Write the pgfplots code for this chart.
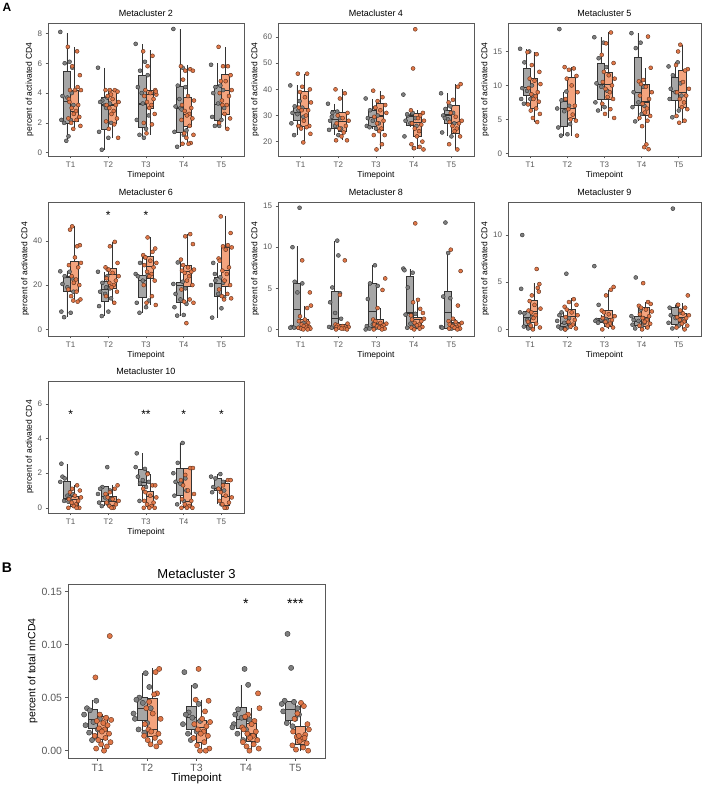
\documentclass[border=0pt]{standalone}
\usepackage{fontspec}
\setmainfont{Liberation Sans}
\usepackage{pgfplots}
\pgfplotsset{compat=1.18}
\usepgfplotslibrary{statistics}

\definecolor{gfill}{HTML}{A6A6A6}
\definecolor{ofill}{HTML}{F4A47E}
\definecolor{gpt}{HTML}{7F7F7F}
\definecolor{opt}{HTML}{E07748}
\definecolor{edge}{HTML}{333333}
\definecolor{frm}{HTML}{595959}

\pgfplotsset{
  mc/.style={scale only axis, xmin=0.4, xmax=5.6,
    xtick={1,2,3,4,5}, xticklabels={T1,T2,T3,T4,T5},
    tick pos=left, tick align=outside, major tick length=2.5pt,
    axis line style={frm, line width=0.5pt},
    tick style={frm, line width=0.5pt},
    ticklabel style={font=\fontsize{8}{9}\selectfont, text=black!65},
    /pgf/number format/assume math mode=true,
    title style={font=\fontsize{9}{10}\selectfont, yshift=-3pt},
    label style={font=\fontsize{8.5}{9}\selectfont},
    ylabel={percent of activated CD4}, xlabel={Timepoint},
    xlabel style={yshift=3pt}, ylabel style={yshift=-3pt},
    boxplot/draw direction=y,
    boxplot/box extend=0.2, boxplot/whisker extend=0,
    boxplot/every median/.style={line width=1.1pt}},
  gb/.style={draw=edge, fill=gfill, line width=0.5pt},
  ob/.style={draw=edge, fill=ofill, line width=0.5pt},
  % jitter is spread a little wider round each group's centre
  gp/.style={only marks, mark=*, mark size=2pt,
    x filter/.expression={round(x)-0.1+1.45*(x-round(x)+0.1)},
    mark options={fill=gpt, draw=black!80, line width=0.4pt}},
  op/.style={only marks, mark=*, mark size=2pt,
    x filter/.expression={round(x)+0.1+1.45*(x-round(x)-0.1)},
    mark options={fill=opt, draw=black!60!opt, line width=0.4pt}},
}
\tikzset{star/.style={font=\fontsize{12}{12}\selectfont, yshift=-2pt}}
% box: style, position, lower whisker, lower quartile, median, upper quartile, upper whisker
\newcommand{\bx}[7]{\addplot[#1, boxplot prepared={draw position=#2,
  lower whisker=#3, lower quartile=#4, median=#5,
  upper quartile=#6, upper whisker=#7}] coordinates {};}

\begin{document}
\begin{tikzpicture}
\useasboundingbox (0,0) rectangle (706pt,788pt);
\node[font=\bfseries\fontsize{12}{12}\selectfont] at (7pt,781pt) {A};
\node[font=\bfseries\fontsize{14}{14}\selectfont] at (7pt,220pt) {B};

% ---- Metacluster 2
\begin{axis}[mc, at={(48pt,632pt)}, anchor=south west, width=196pt, height=133pt,
  ymin=-0.22, ymax=8.7, ytick={0,2,4,6,8}, title={Metacluster 2}]
\bx{gb}{0.9}{0.8}{2.0}{3.44}{5.44}{8.0}
\bx{ob}{1.1}{1.6}{2.1}{2.78}{4.2}{7.1}
\bx{gb}{1.9}{0.2}{1.55}{3.2}{3.7}{5.7}
\bx{ob}{2.1}{1.0}{1.95}{3.2}{4.2}{4.2}
\bx{gb}{2.9}{0.95}{1.73}{3.27}{5.2}{7.3}
\bx{ob}{3.1}{1.2}{3.0}{3.9}{4.2}{6.9}
\bx{gb}{3.9}{0.4}{1.4}{3.0}{4.45}{8.3}
\bx{ob}{4.1}{0.6}{1.8}{2.56}{3.7}{5.9}
\bx{gb}{4.9}{1.78}{2.2}{3.22}{4.5}{6.0}
\bx{ob}{5.1}{1.6}{2.6}{4.2}{5.27}{7.1}
\addplot[gp] coordinates {
(.78,8.1)(.95,6.1)(.86,6.0)(1.00,5.7)(.82,3.8)(.91,3.7)(1.02,3.2)(.80,2.2)(.97,2.2)(.85,2.0)(.93,1.1)(.89,0.8)(.99,4.0)
(1.78,5.7)(1.95,3.7)(1.86,3.5)(2.00,3.3)(1.82,3.4)(1.91,3.2)(2.02,2.0)(1.80,1.4)(1.97,1.0)(1.85,0.2)(1.93,3.0)
(2.78,7.3)(2.95,6.1)(2.86,5.5)(3.00,5.2)(2.82,4.4)(2.91,3.3)(3.02,2.5)(2.80,2.2)(2.97,1.6)(2.85,1.2)(2.93,1.0)(2.89,4.0)
(3.78,8.3)(3.95,5.7)(3.86,4.5)(4.00,4.4)(3.82,3.1)(3.91,3.0)(4.02,1.5)(3.80,1.4)(3.97,1.2)(3.85,0.4)(3.93,2.9)(3.89,3.6)
(4.78,5.9)(4.95,4.5)(4.86,4.4)(5.00,4.2)(4.82,4.0)(4.91,3.3)(5.02,3.0)(4.80,2.4)(4.97,2.2)(4.85,1.8)(4.93,1.8)
};
\addplot[op] coordinates {
(.98,7.1)(1.15,6.8)(1.06,5.8)(1.20,5.2)(1.02,4.2)(1.11,4.2)(1.22,4.2)(1.00,3.6)(1.17,3.2)(1.05,3.0)(1.13,2.8)(1.09,2.6)(1.19,2.4)(.99,2.3)(1.14,2.2)(1.04,2.0)(1.21,1.8)(1.08,1.6)(1.16,4.4)(1.01,3.4)
(1.98,4.2)(2.15,4.2)(2.06,4.2)(2.20,4.1)(2.02,3.8)(2.11,3.6)(2.22,3.4)(2.00,3.2)(2.17,3.2)(2.05,3.0)(2.13,2.8)(2.09,2.6)(2.19,2.3)(1.99,2.1)(2.14,1.9)(2.04,1.6)(2.21,1.0)(2.08,3.9)
(2.98,6.8)(3.15,6.5)(3.06,5.8)(3.20,4.2)(3.02,4.2)(3.11,4.0)(3.22,3.9)(3.00,3.8)(3.17,3.6)(3.05,3.4)(3.13,3.2)(3.09,3.0)(3.19,2.6)(2.99,2.0)(3.14,1.9)(3.04,1.3)(3.21,4.1)
(3.98,5.8)(4.15,5.6)(4.06,5.5)(4.20,5.5)(4.02,4.9)(4.11,3.8)(4.22,3.5)(4.00,3.2)(4.17,3.0)(4.05,2.8)(4.13,2.6)(4.09,2.5)(4.19,2.3)(3.99,2.2)(4.14,1.8)(4.04,1.3)(4.21,1.2)(4.08,1.0)(4.16,0.65)(4.01,0.6)(4.12,0.6)
(4.98,7.1)(5.15,5.8)(5.06,5.8)(5.20,5.2)(5.02,4.8)(5.11,4.8)(5.22,4.2)(5.00,4.0)(5.17,3.8)(5.05,3.2)(5.13,3.2)(5.09,2.6)(5.19,2.3)(4.99,2.0)(5.14,1.6)(5.04,3.5)
};
\end{axis}

% ---- Metacluster 4
\begin{axis}[mc, at={(278pt,632pt)}, anchor=south west, width=196pt, height=133pt,
  ymin=14.5, ymax=65.4, ytick={20,30,40,50,60}, title={Metacluster 4}]
\bx{gb}{0.9}{22.6}{28.3}{31.1}{33.7}{41.5}
\bx{ob}{1.1}{19.7}{25.8}{32.8}{39.2}{46}
\bx{gb}{1.9}{22.5}{25.1}{28.3}{32.1}{34.5}
\bx{ob}{2.1}{20.5}{23.8}{27.7}{31.1}{40}
\bx{gb}{2.9}{25}{25.8}{29.3}{32.1}{36.5}
\bx{ob}{3.1}{17}{24.5}{29.8}{34.7}{39.5}
\bx{gb}{3.9}{25.5}{26.4}{29.6}{30.2}{31}
\bx{ob}{4.1}{17}{21.9}{27.3}{30.9}{32}
\bx{gb}{4.9}{22}{27}{30.2}{32.1}{38.5}
\bx{ob}{5.1}{17}{23.2}{27.3}{34}{42}
\addplot[gp] coordinates {
(.78,41.5)(.95,35.5)(.86,33.5)(1.00,33)(.82,31)(.91,30.5)(1.02,29.5)(.80,27)(.97,25.5)(.85,22.5)(.93,32)
(1.78,34.5)(1.95,31.5)(1.86,31)(2.00,29)(1.82,28)(1.91,26)(2.02,25)(1.80,24.5)(1.97,22.5)(1.85,29.5)
(2.78,36.5)(2.95,33)(2.86,32)(3.00,30)(2.82,29)(2.91,28)(3.02,27)(2.80,26)(2.97,25)(2.85,25.5)
(3.78,38)(3.95,31)(3.86,30)(4.00,29)(3.82,28)(3.91,27)(4.02,26)(3.80,22)(3.97,17.5)(3.85,30.5)
(4.78,38.5)(4.95,33.5)(4.86,32.5)(5.00,31)(4.82,30)(4.91,28.5)(5.02,27)(4.80,23.5)(4.97,22)(4.85,29)
};
\addplot[op] coordinates {
(.98,46)(1.15,46)(1.06,41)(1.20,40)(1.02,39)(1.11,37)(1.22,35)(1.00,33)(1.17,32)(1.05,32)(1.13,30)(1.09,28)(1.19,26)(.99,26)(1.14,25.5)(1.04,25)(1.21,23)(1.08,19.7)
(1.98,40)(2.15,38.5)(2.06,36.5)(2.20,31)(2.02,30)(2.11,29)(2.22,28)(2.00,27)(2.17,26)(2.05,25)(2.13,23.5)(2.09,22)(2.19,20.5)(1.99,20.5)
(2.98,39.5)(3.15,37)(3.06,35.5)(3.20,34)(3.02,33)(3.11,32)(3.22,31)(3.00,29.5)(3.17,28)(3.05,27)(3.13,25)(3.09,24)(3.19,22.5)(2.99,22.5)(3.14,19)(3.04,17)
(4.06,63)(4.02,48)(3.98,32)(4.20,31)(4.15,30)(4.11,29)(4.22,28)(4.00,27)(4.17,26.5)(4.05,25)(4.13,24)(4.09,22)(4.19,20)(3.99,19)(4.14,18)(4.04,17.5)(4.21,17)
(5.20,42)(5.15,41)(5.06,36)(4.98,35)(5.02,31)(5.11,29.5)(5.22,28)(5.00,27.5)(5.17,27)(5.05,26)(5.13,25)(5.09,24)(5.19,22)(4.99,19)(5.14,17)
};
\end{axis}

% ---- Metacluster 5
\begin{axis}[mc, at={(508pt,632pt)}, anchor=south west, width=193pt, height=133pt,
  ymin=-0.4, ymax=19.2, ytick={0,5,10,15}, title={Metacluster 5}]
\bx{gb}{0.9}{7.3}{8.5}{9.7}{12.5}{15.4}
\bx{ob}{1.1}{4.6}{6.6}{8.4}{11}{14.9}
\bx{gb}{1.9}{2.6}{4.0}{6.6}{7.65}{9.1}
\bx{ob}{2.1}{2.6}{5.2}{6.6}{11.2}{12.7}
\bx{gb}{2.9}{6.3}{8.0}{10.1}{13.2}{17.1}
\bx{ob}{3.1}{5.2}{8.0}{10.1}{11.9}{17.8}
\bx{gb}{3.9}{4.7}{7.1}{8.9}{14.1}{17.7}
\bx{ob}{4.1}{0.6}{5.6}{7.55}{10.1}{12.6}
\bx{gb}{4.9}{5.3}{7.8}{9.1}{11.2}{13.4}
\bx{ob}{5.1}{4.5}{6.8}{8.9}{12.2}{16}
\addplot[gp] coordinates {
(.78,15.4)(.95,15)(.86,13.4)(1.00,10)(.82,9.6)(.91,9.2)(1.02,8.5)(.80,8)(.97,8)(.85,7.3)
(1.82,18.3)(1.95,9.1)(1.86,7.8)(2.00,7.0)(1.78,6.6)(1.91,6.2)(2.02,4.3)(1.80,3.8)(1.97,2.8)(1.85,2.6)
(2.78,17.1)(2.95,16.3)(2.86,14)(3.00,12.7)(2.82,10.3)(2.91,9.8)(3.02,9.2)(2.80,7.5)(2.97,6.8)(2.85,6.3)
(3.78,17.7)(3.95,16.3)(3.86,15.5)(4.00,9.8)(3.82,9)(3.91,7.5)(4.02,7)(3.80,6.8)(3.97,5.8)(3.85,4.7)
(4.78,12.8)(4.95,13.4)(4.86,11.5)(5.00,10.3)(4.82,9.5)(4.91,9)(5.02,8.5)(4.80,8)(4.97,6.3)(4.85,5.3)
};
\addplot[op] coordinates {
(.98,14.9)(1.15,14.6)(1.06,13)(1.20,12)(1.02,11)(1.11,10.7)(1.22,10.2)(1.00,9.6)(1.17,9)(1.05,8.7)(1.13,8.4)(1.09,8)(1.19,7.6)(.99,7.2)(1.14,6.6)(1.04,6.3)(1.21,5.8)(1.08,5.2)(1.16,4.6)
(1.98,12.7)(2.15,12.5)(2.06,12.3)(2.20,11.4)(2.02,11)(2.11,10)(2.22,9)(2.00,8)(2.17,7)(2.05,6.5)(2.13,5.7)(2.09,5)(2.19,4.8)(2.21,2.6)
(3.15,17.8)(3.06,16.2)(2.98,14.5)(3.20,13.3)(3.02,12)(3.11,11.5)(3.22,11)(3.00,10.5)(3.17,10)(3.05,9.5)(3.13,9)(3.09,8.3)(3.19,8)(2.99,7.3)(3.14,6.5)(3.04,5.8)(3.21,5.2)
(4.15,17.2)(4.20,12.6)(4.06,10.8)(3.98,10.6)(4.02,10.2)(4.11,9.8)(4.22,9)(4.00,8.5)(4.17,8)(4.05,7.3)(4.13,6.6)(4.09,6)(4.19,5.5)(3.99,5.2)(4.14,4.8)(4.04,4)(4.12,1.3)(4.08,0.9)(4.16,0.6)
(5.06,16)(5.02,15)(4.98,13)(5.20,12.4)(5.15,12.2)(5.11,10.5)(5.22,9.5)(5.00,9)(5.17,8.5)(5.05,8)(5.13,7.5)(5.09,6.8)(5.19,6.5)(4.99,5.5)(5.14,4.8)(5.04,4.5)
};
\end{axis}

% ---- Metacluster 6
\begin{axis}[mc, at={(48pt,452pt)}, anchor=south west, width=196pt, height=134pt,
  ymin=-3, ymax=57.5, ytick={0,20,40}, title={Metacluster 6}]
\bx{gb}{0.9}{5.5}{17.1}{23.4}{23.8}{26.2}
\bx{ob}{1.1}{12.5}{17.1}{22.6}{30.9}{46.5}
\bx{gb}{1.9}{6}{12.5}{17.8}{21.9}{26}
\bx{ob}{2.1}{12}{18.6}{24.6}{27.6}{39.5}
\bx{gb}{2.9}{7.5}{14.3}{21.9}{24.6}{32.5}
\bx{ob}{3.1}{11}{23.1}{28.4}{32.9}{41.5}
\bx{gb}{3.9}{6.2}{12.1}{20}{21.3}{30.2}
\bx{ob}{4.1}{12}{19.3}{26.1}{29.1}{43}
\bx{gb}{4.9}{5.3}{14.8}{20.8}{23.4}{30}
\bx{ob}{5.1}{13.5}{19.3}{26.4}{37}{51}
\addplot[gp] coordinates {
(.78,26.2)(.95,26)(.86,24)(1.00,23)(.82,20.5)(.91,19)(1.02,17)(.80,8)(.97,7.5)(.85,5.5)
(1.78,26)(1.95,24)(1.86,21)(2.00,18.5)(1.82,17)(1.91,16)(2.02,14)(1.80,10.5)(1.97,8)(1.85,6)(1.93,19)
(2.95,32.5)(2.86,30)(2.78,25)(3.00,24.5)(2.82,24)(2.91,22)(3.02,13)(2.80,12)(2.97,10)(2.85,7.5)
(3.86,30.2)(3.95,21.5)(3.78,20.5)(4.00,18.5)(3.82,16)(3.91,13.5)(4.02,11.5)(3.80,10)(3.97,6.5)(3.85,6.2)
(4.82,30)(4.95,23.5)(4.86,22)(5.00,21)(4.78,20)(4.91,16)(5.02,14.5)(4.97,9.5)(4.80,5.3)(4.85,25)
};
\addplot[op] coordinates {
(1.06,46.5)(1.02,45)(1.20,38)(1.15,37.5)(1.11,32.5)(1.22,30)(1.00,29)(1.17,28)(1.05,24)(1.13,22.5)(1.09,21)(1.19,20)(.99,18)(1.14,17)(1.04,15)(1.21,13.5)(1.08,13)(1.16,12.5)
(2.15,39.5)(2.06,37.5)(2.20,30)(1.98,28)(2.02,27)(2.11,25.5)(2.22,24)(2.00,23)(2.17,22)(2.05,21)(2.13,20)(2.09,19)(2.19,17)(1.99,15)(2.14,12)(2.04,27)
(3.06,41.5)(3.20,36.5)(3.15,35)(2.98,33.5)(3.02,32.5)(3.11,31)(3.22,30)(3.00,29)(3.17,28)(3.05,26)(3.13,25)(3.09,24)(3.19,22)(2.99,20)(3.14,15)(3.04,12)(3.21,11)
(4.15,43)(4.06,42)(4.20,38.5)(3.98,31.5)(4.02,29)(4.11,28)(4.22,27)(4.00,26.5)(4.17,26)(4.05,25.5)(4.13,24)(4.09,22)(4.19,20)(3.99,18)(4.14,13.5)(4.04,12.5)(4.21,12)(4.08,2.8)
(5.02,51)(5.20,43.5)(5.15,38)(5.06,37.5)(5.22,37)(5.11,36)(4.98,32)(5.00,31)(5.17,28)(5.05,26.5)(5.13,25)(5.09,22)(5.19,20)(4.99,18)(5.14,16)(5.04,15)(5.21,14)(5.08,13.5)
};
\node[star] at (axis cs:2,52.2) {*};
\node[star] at (axis cs:3,52.2) {*};
\end{axis}

% ---- Metacluster 8
\begin{axis}[mc, at={(278pt,452pt)}, anchor=south west, width=196pt, height=134pt,
  ymin=-0.8, ymax=15.5, ytick={0,5,10,15}, title={Metacluster 8}]
\bx{gb}{0.9}{0.2}{0.2}{2.45}{5.6}{10.1}
\bx{ob}{1.1}{0}{0.1}{0.35}{1.2}{2.9}
\bx{gb}{1.9}{0.2}{0.2}{1.35}{4.7}{10.8}
\bx{ob}{2.1}{0}{0.1}{0.3}{0.6}{0.7}
\bx{gb}{2.9}{0}{0.3}{2.2}{5.6}{7.8}
\bx{ob}{3.1}{0}{0.1}{0.6}{1.2}{2.6}
\bx{gb}{3.9}{0.1}{0.3}{2.0}{6.5}{7.4}
\bx{ob}{4.1}{0}{0.2}{1.2}{1.5}{3.6}
\bx{gb}{4.9}{0.1}{0.2}{2.1}{4.6}{9.3}
\bx{ob}{5.1}{0}{0.1}{0.5}{0.9}{1.3}
\addplot[gp] coordinates {
(.95,14.8)(.82,10)(.86,5.8)(1.00,5.6)(.91,4.5)(1.02,0.8)(.80,0.3)(.97,0.2)(.85,0.2)(.93,0.2)(.78,0.2)
(1.95,10.8)(1.97,9)(1.86,5.1)(2.00,4.4)(1.82,3.3)(1.91,2)(2.02,1.3)(1.80,0.3)(1.85,0.2)(1.93,0.2)
(2.95,7.8)(2.86,5.6)(3.00,5.3)(2.82,3.7)(2.91,0.6)(3.02,0.6)(2.80,0.4)(2.97,0.2)(2.85,0.1)(2.78,0)
(3.78,7.4)(3.80,7.2)(3.95,6.9)(3.86,5.1)(4.00,1.9)(3.82,1.8)(3.91,0.7)(4.02,0.5)(3.97,0.3)(3.85,0.2)
(4.86,13)(4.91,9.3)(4.82,4.0)(4.95,3.8)(5.00,0.5)(4.78,0.3)(5.02,0.2)(4.80,0.2)(4.97,0.1)
};
\addplot[op] coordinates {
(1.06,8.4)(1.20,4.5)(1.22,2.9)(1.15,2.6)(1.02,1.6)(1.11,1.2)(1.00,1.0)(1.17,0.8)(1.05,0.6)(1.13,0.5)(1.09,0.4)(1.19,0.3)(.99,0.2)(1.14,0.2)(1.04,0.1)(1.21,0.1)(1.08,0)(1.16,0)
(2.15,8.4)(2.06,4.2)(2.20,0.7)(1.98,0.6)(2.02,0.5)(2.11,0.4)(2.22,0.3)(2.00,0.3)(2.17,0.2)(2.05,0.2)(2.13,0.1)(2.09,0.1)(2.19,0)(1.99,0)
(3.20,6.2)(3.15,4.8)(3.06,2.6)(2.98,1.2)(3.02,1.0)(3.11,0.8)(3.22,0.7)(3.00,0.6)(3.17,0.5)(3.05,0.4)(3.13,0.3)(3.09,0.2)(3.19,0.1)(2.99,0)(3.14,0)
(4.06,12.9)(4.11,3.6)(4.02,3.3)(4.15,2.5)(4.20,2.0)(3.98,1.7)(4.22,1.3)(4.00,1.2)(4.17,1.0)(4.05,0.8)(4.13,0.6)(4.09,0.5)(4.19,0.3)(3.99,0.2)(4.14,0.1)(4.04,0)
(5.02,9.7)(5.20,7.1)(5.15,2.9)(5.06,1.3)(4.98,1.0)(5.11,0.9)(5.22,0.8)(5.00,0.6)(5.17,0.5)(5.05,0.4)(5.13,0.3)(5.09,0.2)(5.19,0.1)(4.99,0.1)(5.14,0)
};
\end{axis}

% ---- Metacluster 9
\begin{axis}[mc, at={(508pt,452pt)}, anchor=south west, width=193pt, height=134pt,
  ymin=-0.7, ymax=13.5, ytick={0,5,10}, title={Metacluster 9}]
\bx{gb}{0.9}{0}{0.46}{1.24}{1.87}{1.87}
\bx{ob}{1.1}{0}{0.8}{1.87}{3.1}{4.9}
\bx{gb}{1.9}{0}{0.28}{0.64}{1.34}{1.87}
\bx{ob}{2.1}{0}{0.46}{1.34}{2.1}{3.3}
\bx{gb}{2.9}{0.7}{0.8}{0.95}{1.17}{1.5}
\bx{ob}{3.1}{0}{0.28}{1.17}{2.05}{4.2}
\bx{gb}{3.9}{0.1}{0.46}{0.88}{1.34}{2.3}
\bx{ob}{4.1}{0}{0.28}{1.24}{2.3}{2.9}
\bx{gb}{4.9}{0.1}{0.53}{1.45}{2.3}{2.6}
\bx{ob}{5.1}{0}{0.8}{1.24}{1.7}{2.75}
\addplot[gp] coordinates {
(.82,10)(.80,4.3)(.78,1.8)(.86,1.7)(1.00,1.3)(.91,1.0)(.95,0.6)(.85,0.3)(.97,0.2)(.93,0.1)
(1.95,5.9)(1.86,1.8)(1.82,1.5)(2.00,1.2)(1.78,0.9)(1.91,0.7)(2.02,0.5)(1.80,0.3)(1.97,0.2)(1.85,0.1)(1.93,0)
(2.78,6.7)(2.86,2.6)(2.95,1.2)(3.00,1.1)(2.82,1.0)(2.91,1.0)(3.02,0.9)(2.80,0.9)(2.97,0.8)(2.85,0.7)
(3.86,5.5)(3.95,2.1)(3.78,1.4)(4.00,1.2)(3.82,1.0)(3.91,0.9)(4.02,0.7)(3.80,0.5)(3.97,0.3)(3.85,0.1)
(4.86,12.8)(4.95,2.6)(4.80,2.3)(5.00,1.8)(4.82,1.5)(4.91,1.2)(5.02,1.0)(4.78,0.7)(4.97,0.4)(4.85,0.1)
};
\addplot[op] coordinates {
(1.15,6.4)(1.20,4.8)(1.17,4.4)(1.19,4.0)(1.06,3.6)(1.02,3.0)(1.11,2.6)(1.22,2.2)(1.00,2.0)(1.05,1.8)(1.13,1.5)(1.09,1.2)(.99,0.8)(1.14,0.6)(1.04,0.4)(1.21,0.2)(1.08,0)
(2.15,3.2)(2.06,2.9)(2.20,2.6)(1.98,2.4)(2.02,2.1)(2.11,1.8)(2.22,1.5)(2.00,1.3)(2.17,1.0)(2.05,0.8)(2.13,0.5)(2.09,0.3)(2.19,0.1)(1.99,0)
(3.20,4.5)(3.15,4.2)(3.06,3.6)(2.98,2.0)(3.02,1.8)(3.11,1.6)(3.22,1.4)(3.00,1.2)(3.17,1.0)(3.05,0.8)(3.13,0.6)(3.09,0.4)(3.19,0.2)(2.99,0)
(4.06,4.9)(4.15,2.9)(4.20,2.7)(3.98,2.5)(4.02,2.3)(4.11,2.1)(4.22,1.9)(4.00,1.6)(4.17,1.4)(4.05,1.2)(4.13,1.0)(4.09,0.8)(4.19,0.6)(3.99,0.4)(4.14,0.2)(4.04,0)
(5.20,3.6)(5.02,2.6)(5.15,2.3)(5.06,2.0)(5.11,1.7)(5.22,1.5)(5.00,1.3)(5.17,1.2)(5.05,1.0)(5.13,0.8)(5.09,0.6)(5.19,0.4)(4.99,0.2)(5.14,0)
};
\end{axis}

% ---- Metacluster 10
\begin{axis}[mc, at={(48pt,275pt)}, anchor=south west, width=196pt, height=132pt,
  ymin=-0.3, ymax=7.33, ytick={0,2,4,6}, title={Metacluster 10}]
\bx{gb}{0.9}{0.35}{0.5}{0.56}{1.56}{2.55}
\bx{ob}{1.1}{0}{0.08}{0.5}{0.65}{1.3}
\bx{gb}{1.9}{0.1}{0.37}{0.65}{1.23}{1.23}
\bx{ob}{2.1}{0}{0.17}{0.37}{0.65}{1.3}
\bx{gb}{2.9}{0.4}{1.33}{1.46}{2.25}{3.15}
\bx{ob}{3.1}{0}{0.08}{0.65}{0.94}{1.95}
\bx{gb}{3.9}{0.2}{0.7}{1.46}{2.29}{3.75}
\bx{ob}{4.1}{0}{0.04}{0.37}{2.3}{2.3}
\bx{gb}{4.9}{0.2}{1.04}{1.13}{1.71}{1.95}
\bx{ob}{5.1}{0}{0.12}{0.65}{1.42}{1.6}
\addplot[gp] coordinates {
(.80,2.55)(.82,1.8)(.86,1.7)(.78,1.5)(1.00,0.8)(.91,0.7)(.95,0.6)(.85,0.4)(.97,0.4)(.93,0.35)
(1.95,2.35)(1.86,1.2)(1.82,1.1)(2.00,1.0)(1.78,0.8)(1.91,0.6)(2.02,0.5)(1.80,0.3)(1.97,0.2)(1.85,0.1)
(2.80,3.15)(2.78,2.35)(2.95,2.25)(3.00,2.0)(2.82,1.8)(2.91,1.6)(3.02,1.5)(2.86,1.4)(2.97,1.2)(2.85,0.4)
(3.95,3.75)(3.86,2.6)(3.78,2.0)(4.00,1.7)(3.82,1.5)(3.91,1.4)(4.02,1.0)(3.80,0.7)(3.97,0.4)(3.85,0.2)
(4.95,1.95)(4.78,1.8)(4.86,1.7)(5.00,1.5)(4.82,1.2)(4.91,1.1)(5.02,1.0)(4.80,0.9)(4.97,0.2)
};
\addplot[op] coordinates {
(1.15,1.3)(1.06,1.1)(1.20,1.0)(1.02,0.9)(1.11,0.7)(1.22,0.6)(1.00,0.5)(1.17,0.4)(1.05,0.3)(1.13,0.2)(1.09,0.1)(1.19,0)(.99,0)(1.14,0)
(2.20,1.3)(2.15,1.1)(2.06,0.9)(1.98,0.8)(2.02,0.6)(2.11,0.5)(2.22,0.4)(2.00,0.3)(2.17,0.2)(2.05,0.1)(2.13,0)(2.09,0)
(3.06,1.95)(3.15,1.3)(3.20,1.3)(2.98,1.1)(3.02,0.9)(3.11,0.7)(3.22,0.6)(3.00,0.4)(3.17,0.3)(3.05,0.2)(3.13,0.1)(3.09,0)(3.19,0)(2.99,0)
(4.15,2.3)(4.20,2.3)(4.06,1.9)(3.98,1.6)(4.02,1.3)(4.11,1.0)(4.22,0.8)(4.00,0.5)(4.17,0.4)(4.05,0.2)(4.13,0.1)(4.09,0)(4.19,0)(3.99,0)
(5.15,1.6)(5.20,1.6)(5.06,1.3)(4.98,1.1)(5.02,0.9)(5.11,0.7)(5.22,0.6)(5.00,0.4)(5.17,0.3)(5.05,0.2)(5.13,0)(5.09,0)
};
\node[star] at (axis cs:1,5.5) {*};
\node[star] at (axis cs:3,5.5) {**};
\node[star] at (axis cs:4,5.5) {*};
\node[star] at (axis cs:5,5.5) {*};
\end{axis}

% ---- Metacluster 3 (B)
\begin{axis}[mc, at={(68pt,30pt)}, anchor=south west, width=257pt, height=174pt,
  ymin=-0.0069, ymax=0.157, ytick={0,0.05,0.10,0.15},
  yticklabels={0.00,0.05,0.10,0.15}, title={Metacluster 3},
  ylabel={percent of total nnCD4},
  ticklabel style={font=\fontsize{10.5}{11}\selectfont, text=black!65},
  title style={font=\fontsize{13}{14}\selectfont, yshift=-1pt},
  label style={font=\fontsize{10.5}{11}\selectfont},
  xlabel style={font=\fontsize{11.5}{12}\selectfont, yshift=2pt},
  gp/.append style={mark size=2.6pt}, op/.append style={mark size=2.6pt}]
\bx{gb}{0.9}{0.012}{0.021}{0.029}{0.039}{0.048}
\bx{ob}{1.1}{0}{0.011}{0.020}{0.032}{0.035}
\bx{gb}{1.9}{0.017}{0.029}{0.040}{0.050}{0.073}
\bx{ob}{2.1}{0.004}{0.0135}{0.020}{0.0496}{0.078}
\bx{gb}{2.9}{0.0145}{0.020}{0.031}{0.042}{0.062}
\bx{ob}{3.1}{0}{0.008}{0.022}{0.029}{0.048}
\bx{gb}{3.9}{0.010}{0.021}{0.029}{0.041}{0.062}
\bx{ob}{4.1}{0}{0.0088}{0.0157}{0.026}{0.040}
\bx{gb}{4.9}{0.023}{0.029}{0.0386}{0.0465}{0.047}
\bx{ob}{5.1}{0}{0.0056}{0.0135}{0.023}{0.045}
\addplot[gp] coordinates {
(.95,0.047)(.82,0.040)(.86,0.038)(.78,0.034)(1.00,0.030)(.91,0.027)(.80,0.024)(.97,0.020)(.85,0.017)(.93,0.013)(.89,0.010)
(1.95,0.073)(2.00,0.060)(1.86,0.050)(1.82,0.048)(1.91,0.045)(2.02,0.040)(1.78,0.035)(1.80,0.030)(1.97,0.026)(1.85,0.020)(1.93,0.017)
(2.80,0.074)(2.95,0.061)(3.00,0.044)(2.86,0.036)(2.82,0.034)(2.91,0.031)(3.02,0.028)(2.78,0.025)(2.97,0.018)(2.85,0.016)(2.89,0.010)
(3.95,0.077)(4.00,0.062)(3.86,0.039)(3.82,0.034)(3.91,0.031)(4.02,0.029)(3.80,0.025)(3.78,0.022)(3.97,0.020)(3.85,0.016)(3.93,0.010)
(4.86,0.110)(4.91,0.078)(4.82,0.047)(4.95,0.046)(4.78,0.044)(5.00,0.040)(4.80,0.037)(5.02,0.034)(4.97,0.030)(4.85,0.026)(4.93,0.023)
};
\addplot[op] coordinates {
(1.20,0.108)(1.00,0.069)(1.06,0.034)(1.15,0.031)(1.22,0.029)(1.02,0.028)(1.11,0.026)(1.17,0.024)(1.05,0.021)(1.13,0.020)(1.09,0.018)(1.19,0.016)(.99,0.014)(1.14,0.012)(1.04,0.010)(1.21,0.008)(1.08,0.006)(1.16,0.004)(1.01,0.002)(1.12,0)
(2.20,0.077)(2.15,0.074)(2.17,0.054)(2.13,0.053)(2.06,0.046)(2.02,0.040)(2.11,0.035)(2.22,0.030)(2.00,0.025)(2.05,0.020)(2.09,0.018)(2.19,0.016)(1.99,0.014)(2.14,0.012)(2.04,0.010)(2.21,0.008)(2.08,0.006)(2.16,0.004)
(3.06,0.077)(3.02,0.048)(3.20,0.047)(3.15,0.037)(3.11,0.030)(3.22,0.027)(3.00,0.025)(3.17,0.023)(3.05,0.020)(3.13,0.018)(3.09,0.016)(3.19,0.014)(2.99,0.012)(3.14,0.008)(3.04,0.005)(3.21,0.002)(3.08,0)(3.16,0)
(4.20,0.054)(4.22,0.040)(4.06,0.034)(4.02,0.032)(4.15,0.028)(4.11,0.025)(3.98,0.022)(4.00,0.020)(4.17,0.018)(4.05,0.016)(4.13,0.014)(4.09,0.012)(4.19,0.010)(3.99,0.008)(4.14,0.006)(4.04,0.004)(4.21,0.002)(4.08,0)
(5.11,0.045)(5.15,0.042)(5.06,0.035)(5.02,0.030)(5.20,0.025)(5.22,0.020)(5.00,0.018)(5.17,0.015)(5.05,0.013)(5.13,0.011)(5.09,0.009)(5.19,0.007)(4.99,0.005)(5.14,0.003)(5.04,0.001)(5.21,0)(5.08,0.014)(5.16,0.012)
};
\node[star, font=\fontsize{14}{14}\selectfont] at (axis cs:4,0.1406) {*};
\node[star, font=\fontsize{14}{14}\selectfont] at (axis cs:5,0.1406) {***};
\end{axis}
\end{tikzpicture}
\end{document}
